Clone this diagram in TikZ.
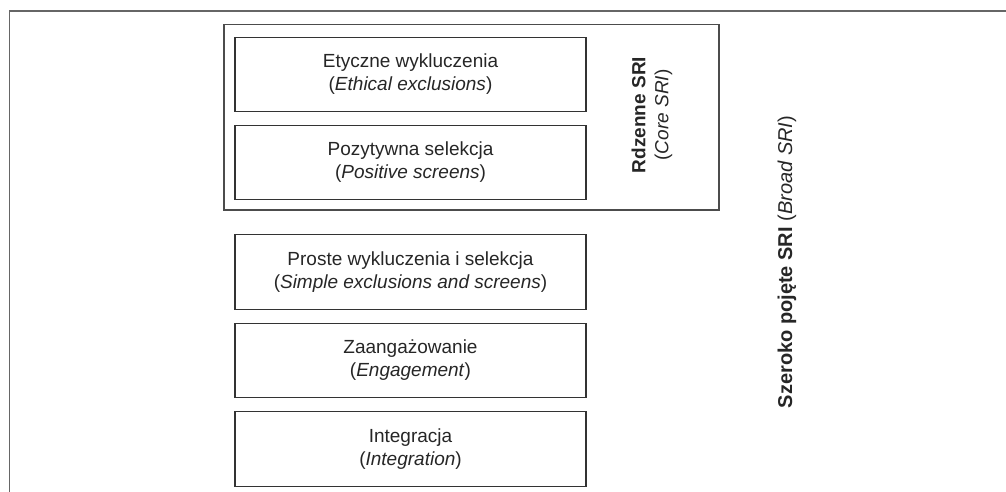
\documentclass[tikz,border=0pt]{standalone}
\usepackage{fontspec}
\setmainfont{Liberation Sans}
\usetikzlibrary{positioning}
\tikzstyle{layer} = [rectangle, draw=black!80, line width=1.4pt, outer sep=0pt, minimum width=351pt, minimum height=74.5pt, align=center, text=black!85, font=\fontsize{19}{23}\selectfont]
\tikzstyle{frame} = [rectangle, draw=black!70, line width=1.4pt, minimum width=495pt, minimum height=185.3pt]
\tikzstyle{sidelabel} = [rotate=90, align=center, text=black!85, font=\fontsize{19}{23}\selectfont]

\begin{document}
\begin{tikzpicture}[x=1pt, y=-1pt, node distance=13.5pt]
\useasboundingbox (0,0) rectangle (1006,492);
\draw [black!60, line width=1.5pt] (1006,11) -| (9.3,492);

\node (core) [frame] at (471.5,117.4) {};
\node (ethical) [layer] at (410.5,74.5) {Etyczne wykluczenia\\(\textit{Ethical exclusions})};
\node (positive) [layer, below=of ethical] {Pozytywna selekcja\\(\textit{Positive screens})};
\node (simple) [layer, below=35pt of positive] {Proste wykluczenia i selekcja\\(\textit{Simple exclusions and screens})};
\node (engage) [layer, below=14pt of simple] {Zaangażowanie\\(\textit{Engagement})};
\node (integr) [layer, below=14pt of engage] {Integracja\\(\textit{Integration})};
\node (corelabel) [sidelabel] at (652,115) {\textbf{Rdzenne SRI}\\(\textit{Core SRI})};
\node (broadlabel) [sidelabel, font=\fontsize{20}{24}\selectfont] at (787,262) {\textbf{Szeroko pojęte SRI} (\textit{Broad SRI})};

\end{tikzpicture}
\end{document}
